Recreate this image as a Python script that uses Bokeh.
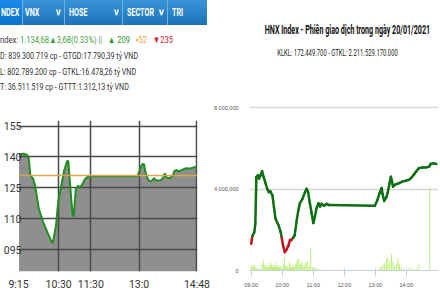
from bokeh.plotting import figure
from bokeh.models import Range1d, Div, NumeralTickFormatter, FixedTicker, Span
from bokeh.layouts import row, column
from bokeh.embed import file_html
from bokeh.resources import INLINE

# ---------------- left panel: VN-Index intraday ----------------
vn_time = [556, 565, 571, 574, 577, 582, 586, 593, 601, 610, 617, 619, 625, 629,
           636, 640, 646, 648, 650, 653, 656, 658, 660, 662, 666, 670, 674, 679,
           682, 685, 689, 777, 782, 786, 789, 792, 797, 801, 805, 808, 811, 816,
           822, 825, 828, 831, 837, 843, 846, 851, 855, 861, 867, 876, 885, 888]
vn_value = [1141.3, 1141.6, 1141.0, 1139.7, 1130.9, 1129.7, 1126.0, 1114.8, 1108.4,
            1102.8, 1098.7, 1098.3, 1106.8, 1118.0, 1127.6, 1133.3, 1138.0, 1138.1,
            1130.8, 1121.0, 1111.6, 1111.3, 1118.0, 1124.4, 1126.0, 1125.2, 1126.8,
            1129.2, 1130.0, 1130.4, 1130.6, 1130.6, 1134.2, 1136.5, 1136.6, 1132.5,
            1128.8, 1128.2, 1128.8, 1129.7, 1128.8, 1128.5, 1129.0, 1130.0, 1132.0,
            1130.0, 1129.7, 1130.8, 1133.3, 1133.6, 1133.0, 1133.8, 1134.5, 1134.4,
            1135.2, 1134.7]
vn_ref = 1131.00
vn_x_ticks = [555, 630, 690, 780, 888]
vn_x_labels = ["9:15", "10:30", "11:30", "13:0", "14:48"]
vn_y_ticks = [1095, 1110, 1125, 1140, 1155]
vn_y_labels = ["095", "110", "125", "140", "155"]

tab_names = ["NDEX", "VNX", "HOSE", "SECTOR", "TRI"]
tab_menu = [False, True, True, True, False]
info_line1 = [("ndex: ", "#333333"), ("1.134,68\u25b23,68(0.33%)", "#3c9a3c"),
              (" ||", "#6f9f6f"), ("\u00a0\u00a0\u00a0\u25b2 209", "#2f962f"),
              ("\u00a0\u00a0\u00a0\u25aa52", "#f0a53a"), ("\u00a0\u00a0\u00a0\u25bc235", "#e0222a")]
info_lines = ["D: 839.300.719 cp - GTGD:17.790,39 t\u1ef7 VND",
              "L: 802.789.200 cp - GTKL:16.478,26 t\u1ef7 VND",
              "T: 36.511.519 cp - GTTT:1.312,13 t\u1ef7 VND"]

# ---------------- right panel: HNX-Index intraday ----------------
hnx_title = "HNX Index - Phi\u00ean giao d\u1ecbch trong ng\u00e0y 20/01/2021"
hnx_sub = "KLKL: 172.449.700 - GTKL: 2.211.529.170.000"
hnx_time = [540, 542, 546, 548, 550, 553, 555, 558, 561, 564, 568, 571, 574, 577,
            581, 584, 587, 590, 593, 597, 599, 602, 605, 608, 612, 615, 618, 621,
            624, 628, 631, 634, 639, 644, 647, 650, 653, 657, 660, 663, 666, 670,
            673, 676, 681, 686, 690, 779, 784, 788, 792, 794, 797, 801, 804, 807,
            810, 812, 814, 817, 821, 826, 832, 839, 845, 850, 855, 860, 864, 871,
            877, 884, 887, 892, 898]
hnx_value = [219.79, 220.03, 220.18, 220.46, 222.01, 222.07, 221.96, 222.07, 222.21,
             222.01, 221.79, 221.62, 221.51, 221.54, 221.40, 221.01, 220.62, 220.51,
             220.40, 220.18, 219.99, 219.70, 219.51, 219.59, 219.73, 219.92, 219.92,
             219.99, 220.07, 220.57, 220.90, 221.14, 221.29, 221.51, 221.62, 221.51,
             221.18, 220.79, 220.48, 220.68, 220.96, 221.14, 221.03, 221.12, 221.06,
             221.12, 221.08, 221.06, 221.25, 221.47, 221.65, 221.45, 221.22, 221.33,
             221.50, 221.78, 222.02, 221.89, 221.69, 221.75, 221.78, 221.81, 221.86,
             221.89, 221.92, 222.00, 222.11, 222.22, 222.31, 222.33, 222.33, 222.36,
             222.45, 222.47, 222.45]
hnx_ref = 220.00
vol_time = [540, 542, 544, 546, 548, 550, 553, 557, 561, 563, 565, 567, 569, 571,
            573, 575, 577, 579, 581, 583, 585, 587, 589, 591, 593, 595, 597, 600,
            602, 604, 606, 608, 610, 612, 614, 616, 618, 620, 622, 624, 626, 628,
            630, 632, 634, 636, 638, 640, 642, 644, 646, 648, 650, 652, 655, 658,
            661, 664, 667, 671, 682, 686,
            789, 792, 795, 798, 801, 804, 807, 811, 814, 817, 821, 824, 827, 830,
            835, 840, 845, 850, 855, 860, 864, 885]
vol_value = [0.21, 0.26, 0.17, 0.28, 0.15, 0.10, 0.12, 0.08, 0.30, 0.50, 0.30, 0.20,
             0.18, 0.25, 0.15, 0.22, 0.41, 0.28, 0.20, 0.27, 0.17, 0.38, 0.15, 0.20,
             0.25, 0.15, 0.22, 0.12, 0.30, 0.66, 0.25, 0.15, 0.22, 0.10, 0.41, 0.18,
             0.12, 0.25, 0.20, 0.15, 0.30, 0.40, 0.58, 0.54, 0.30, 0.35, 0.46, 0.25,
             0.20, 0.30, 0.46, 0.45, 0.15, 0.20, 1.07, 0.12, 0.18, 0.10, 0.12, 0.06,
             0.05, 0.04,
             0.13, 0.20, 0.30, 0.35, 0.54, 0.65, 0.46, 0.82, 0.46, 0.20, 0.38, 0.60,
             0.33, 0.13, 0.10, 0.07, 0.13, 0.10, 0.10, 0.10, 0.30, 4.07]
vol_y_ticks = [0, 4000000, 8000000]
hnx_x_ticks = [540, 600, 660, 720, 780, 840]
hnx_x_labels = ["09:00", "10:00", "11:00", "12:00", "13:00", "14:00"]

# =============== left header (tabs + info) ===============
FONT = "Roboto, sans-serif"
tab_left = [1, 25, 69, 127, 172]
menu_left = [0, 55, 113, 158, 0]
divider_left = [22, 64, 122, 167]
parts = []
parts.append('<div style="position:absolute;left:0;top:0;width:207px;height:25px;'
             'background:linear-gradient(#3a95d8,#1b72b8);"></div>')
parts.append('<div style="position:absolute;left:0;top:0;width:22px;height:25px;'
             'background:linear-gradient(#1c8ae8,#0a70cc);"></div>')
for d in divider_left:
    parts.append(f'<div style="position:absolute;left:{d}px;top:0;width:1px;height:25px;'
                 'background:#6cb2e6;"></div>')
for name, has_menu, lft, ml in zip(tab_names, tab_menu, tab_left, menu_left):
    parts.append(f'<div style="position:absolute;left:{lft}px;top:7px;font:bold 10px {FONT};'
                 'color:#ffffff;transform:scaleX(0.72);transform-origin:0 0;white-space:nowrap;'
                 f'line-height:12px;">{name}</div>')
    if has_menu:
        parts.append(f'<div style="position:absolute;left:{ml}px;top:7px;font:bold 9px {FONT};'
                     'color:#ffffff;line-height:11px;">\u2228</div>')
l1 = "".join(f'<span style="color:{c}">{t}</span>' for t, c in info_line1)
parts.append(f'<div style="position:absolute;left:0;top:34px;font:9.5px {FONT};line-height:12px;'
             f'white-space:nowrap;transform:scaleX(0.8);transform-origin:0 0;">{l1}</div>')
for i, txt in enumerate(info_lines):
    parts.append(f'<div style="position:absolute;left:0;top:{50 + i * 15.7:.1f}px;font:9.5px {FONT};'
                 'line-height:12px;color:#333333;white-space:nowrap;transform:scaleX(0.75);'
                 f'transform-origin:0 0;">{txt}</div>')
left_div = Div(text='<div style="position:relative;width:210px;height:115px;overflow:hidden;">'
               + "".join(parts) + '</div>', width=210, height=115, margin=0,
               styles={"overflow": "hidden"})

# =============== left chart ===============
p1 = figure(width=210, height=178, x_range=Range1d(555, 889), y_range=Range1d(1084.4, 1157.7),
            output_backend="svg", toolbar_location=None, margin=0,
            min_border_left=0, min_border_right=13, min_border_top=5, min_border_bottom=20)
p1.outline_line_color = None
p1.background_fill_color = "#ffffff"
p1.border_fill_color = "#ffffff"
p1.varea(x=vn_time, y1=p1.y_range.start, y2=vn_value, fill_color="#8f8f8f", level="image")
p1.add_layout(Span(location=vn_ref, dimension="width", line_color="#d9a64c", line_width=1.5))
p1.line(vn_time, vn_value, line_color="#1f8f1f", line_width=2)
p1.xaxis.ticker = FixedTicker(ticks=vn_x_ticks)
p1.xaxis.major_label_overrides = dict(zip(vn_x_ticks, vn_x_labels))
p1.yaxis.ticker = FixedTicker(ticks=vn_y_ticks)
p1.yaxis.major_label_overrides = dict(zip(vn_y_ticks, vn_y_labels))
for ax in (p1.xaxis, p1.yaxis):
    ax.axis_line_color = None
    ax.major_tick_line_color = None
    ax.minor_tick_line_color = None
    ax.major_tick_out = 0
    ax.major_tick_in = 0
    ax.major_label_text_font = "Roboto"
    ax.major_label_text_font_size = "10.5px"
    ax.major_label_text_color = "#333333"
p1.xaxis.major_label_standoff = 6
p1.yaxis.major_label_standoff = -3
p1.xgrid.ticker = FixedTicker(ticks=vn_x_ticks)
p1.ygrid.ticker = FixedTicker(ticks=vn_y_ticks)
for g in (p1.xgrid, p1.ygrid):
    g.grid_line_color = "#4a4a4a"
    g.grid_line_width = 1.5

# =============== right header ===============
right_div = Div(text=(
    '<div style="position:relative;width:230px;height:95px;overflow:hidden;">'
    f'<div style="position:absolute;left:0;top:22px;width:255px;text-align:center;'
    f'font:bold 12.5px {FONT};line-height:15px;color:#111111;white-space:nowrap;'
    f'transform:scaleX(0.57);transform-origin:50% 0;">{hnx_title}</div>'
    f'<div style="position:absolute;left:0;top:47px;width:255px;text-align:center;'
    f'font:9.5px {FONT};line-height:12px;color:#222222;white-space:nowrap;'
    f'transform:scaleX(0.62);transform-origin:50% 0;">{hnx_sub}</div>'
    '</div>'), width=230, height=95, margin=0, styles={"overflow": "hidden"})

# =============== right chart ===============
p2 = figure(width=230, height=198, x_range=Range1d(536.7, 902), y_range=Range1d(0, 8160000),
            output_backend="svg", toolbar_location=None, margin=0,
            min_border_left=39, min_border_right=2, min_border_top=9, min_border_bottom=23)
p2.outline_line_color = None
p2.background_fill_color = "#ffffff"
p2.border_fill_color = "#ffffff"
p2.extra_y_ranges = {"hnx": Range1d(218.9, 224.43)}
p2.vbar(x=vol_time, top=[v * 1e6 for v in vol_value], width=1.8, bottom=0,
        fill_color="#b7ee6c", line_color=None)
seg_color = ["#c3141c" if (a + b) / 2 < hnx_ref else "#0d6e12"
             for a, b in zip(hnx_value[:-1], hnx_value[1:])]
p2.segment(x0=hnx_time[:-1], y0=hnx_value[:-1], x1=hnx_time[1:], y1=hnx_value[1:],
           line_color=seg_color, line_width=2.5, line_cap="round", y_range_name="hnx")
p2.yaxis.ticker = FixedTicker(ticks=vol_y_ticks)
p2.yaxis.formatter = NumeralTickFormatter(format="0,0")
p2.xaxis.ticker = FixedTicker(ticks=hnx_x_ticks)
p2.xaxis.major_label_overrides = dict(zip(hnx_x_ticks, hnx_x_labels))
for ax in (p2.xaxis, p2.yaxis):
    ax.major_label_text_font_size = "5.5px"
    ax.major_label_text_color = "#555555"
    ax.minor_tick_line_color = None
p2.yaxis.axis_line_color = None
p2.yaxis.major_tick_line_color = None
p2.xaxis.axis_line_color = "#c4d2e2"
p2.xaxis.major_tick_line_color = "#c4d2e2"
p2.xgrid.grid_line_color = None
p2.ygrid.grid_line_color = "#d6d6d6"
p2.ygrid.grid_line_width = 1.5

layout = row(column(left_div, p1, margin=0), column(right_div, p2, margin=0), margin=0)
open("out.html", "w").write(file_html(layout, INLINE))
